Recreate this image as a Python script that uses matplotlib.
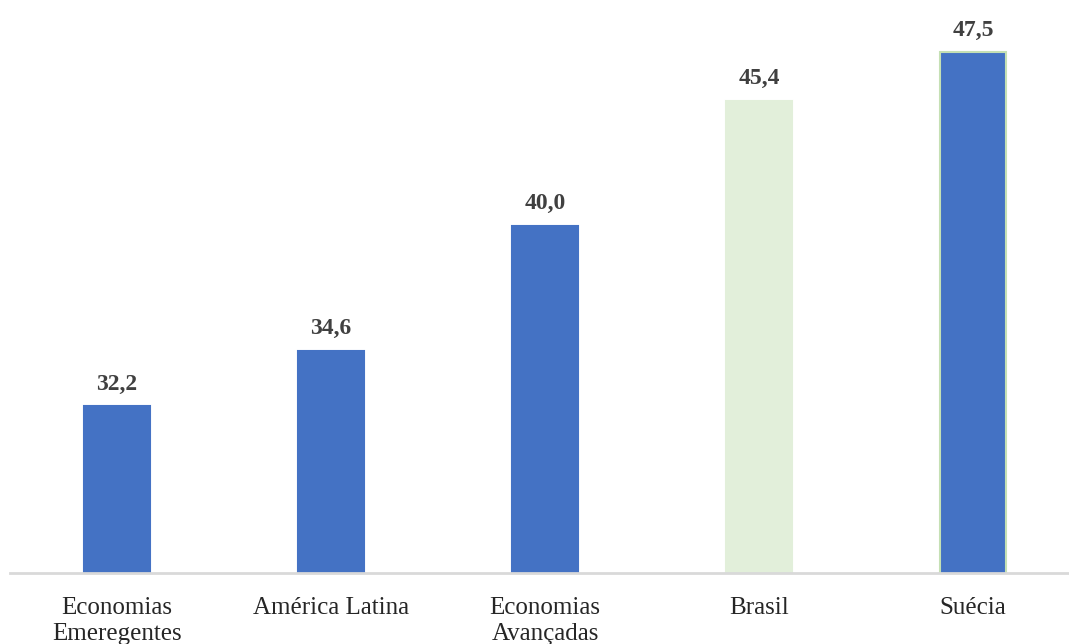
import matplotlib.pyplot as plt

categorias = ["Economias\nEmeregentes", "América Latina", "Economias\nAvançadas", "Brasil", "Suécia"]
valores = [32.2, 34.6, 40.0, 45.4, 47.5]
rotulos = ["32,2", "34,6", "40,0", "45,4", "47,5"]

azul = "#4472C4"
verde = "#E2EFDA"
cores = [azul, azul, azul, verde, azul]
bordas = [azul, azul, azul, verde, "#C5E0B4"]

plt.rcParams["font.family"] = ["Liberation Serif", "DejaVu Serif"]

fig = plt.figure(figsize=(10.69, 6.44), dpi=100)
ax = fig.add_axes([10 / 1069, 71 / 644, 1070 / 1069, 578.5 / 644])

x = list(range(len(categorias)))
ax.bar(x, valores, width=0.31, color=cores, edgecolor=bordas, linewidth=1.5, bottom=0)

for xi, v, r in zip(x, valores, rotulos):
    ax.text(xi, v + 0.5, r, ha="center", va="bottom", fontsize=17,
            fontweight="bold", color="#404040")

ax.set_xlim(-0.5, 4.5)
ax.set_ylim(25, 50)
ax.set_xticks(x)
ax.set_xticklabels(categorias, fontsize=18, color="#262626", linespacing=1.25)
ax.tick_params(axis="x", length=0, pad=17)
ax.set_yticks([])
for s in ["top", "right", "left"]:
    ax.spines[s].set_visible(False)
ax.spines["bottom"].set_color("#D9D9D9")
ax.spines["bottom"].set_linewidth(2)

fig.savefig("out.png", dpi=100)
